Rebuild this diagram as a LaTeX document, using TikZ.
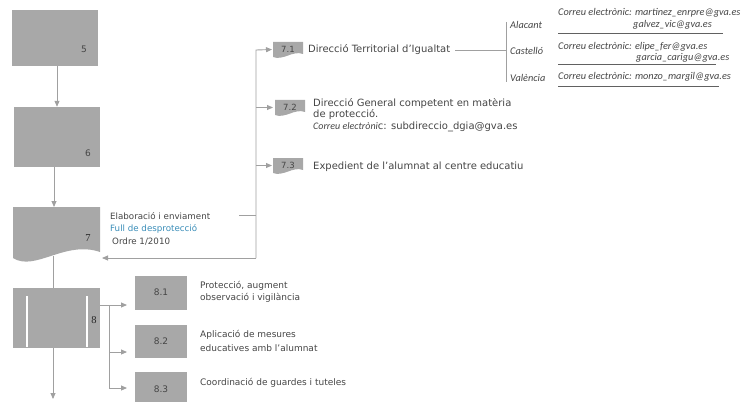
\documentclass[tikz,border=0pt]{standalone}
\usepackage{fontspec}
\setmainfont{DejaVu Sans}
\newfontfamily\emfont{Carlito}
\newfontfamily\numserif{Liberation Serif}
\usetikzlibrary{arrows.meta,calc}
\definecolor{boxgray}{HTML}{A8A8A8}
\definecolor{linegray}{HTML}{A0A0A0}
\definecolor{txtgray}{HTML}{454545}
\definecolor{linkblue}{HTML}{3A8DB8}
\tikzset{
  graybox/.style={fill=boxgray, draw=none, inner sep=0pt},
  conn/.style={draw=linegray, line width=0.9pt},
  arr/.style={conn, -{Triangle[length=6pt,width=5pt]}},
  numlbl/.style={font=\fontsize{9}{10}\selectfont, text=txtgray, inner sep=0pt},
  serlbl/.style={font=\numserif\fontsize{10.5}{11}\selectfont, text=black!85, inner sep=0pt},
  doclbl/.style={font=\fontsize{8.5}{9}\selectfont, text=txtgray, inner sep=0pt},
  txt/.style={font=\fontsize{8.7}{11}\selectfont, text=txtgray, inner sep=0pt, anchor=west},
  bigtxt/.style={font=\fontsize{10}{11}\selectfont, text=txtgray, inner sep=0pt, anchor=west},
  smalltxt/.style={font=\fontsize{9}{10}\selectfont, text=txtgray, inner sep=0pt, anchor=west},
  emtxt/.style={font=\emfont\itshape\fontsize{10.3}{11}\selectfont, text=txtgray, inner sep=0pt, anchor=west},
  uline/.style={draw=txtgray!85, line width=0.7pt},
}
\newcommand{\mydoc}[4]{%
  \fill[boxgray] (#1,#2) -- ++(30,0) -- ++(0,12) .. controls +(-10,-4) and +(10,4) .. ($(#1,#2)+(0,15)$) -- cycle;
  \node[doclbl] (#4) at ($(#1,#2)+(15,7.5)$) {#3};
}
\begin{document}
\begin{tikzpicture}[x=1pt,y=-1pt]
\useasboundingbox (0,0) rectangle (743,401);
% main column
\node[graybox, minimum width=86pt, minimum height=56pt] (b5) at (54.5,38) {};
\node[numlbl] (n5) at (84,49) {5};
\node[graybox, minimum width=86pt, minimum height=60pt] (b6) at (57,137) {};
\node[numlbl] (n6) at (88,153) {6};
\fill[boxgray] (13,207) -- (100,207) -- (100,252) .. controls (65,240) and (35,272) .. (13,258) -- cycle;
\coordinate (s7top) at (54,207);
\coordinate (s7bot) at (53,256);
\coordinate (s7in) at (102,258);
\node[serlbl] (n7) at (88,238) {7};
\node[graybox, minimum width=87pt, minimum height=60pt] (b8) at (56.5,318) {};
\draw[white, line width=1.6pt] (27,296) -- (27,347);
\draw[white, line width=1.6pt] (87,296) -- (87,347);
\node[serlbl] (n8) at (94,320) {8};
\coordinate (end8) at (53,399);

\draw[arr] (b6.north |- b5.south) -- (b6.north);
\draw[arr] (b6.south -| s7top) -- (s7top);
\draw[conn] (s7bot) -- (s7bot |- b8.north);
\draw[arr] (b8.south -| end8) -- (end8);

% text of 7
\node[txt] (t7a) at (110,216) {Elaboració i enviament};
\node[txt, text=linkblue] (t7b) at (110,229) {Full de desprotecció};
\node[txt] (t7c) at (112,242) {Ordre 1/2010};
\coordinate (j7) at (239,215);
\coordinate (jt) at (256,215);
\coordinate (ktop) at (256,50);
\coordinate (kbot) at (256,258);
\draw[conn] (j7) -- (jt);

% 7.x documents
\mydoc{273}{42}{7.1}{d71}
\mydoc{275}{100}{7.2}{d72}
\mydoc{273}{158}{7.3}{d73}
\draw[arr] (kbot) -- (ktop) -- ([xshift=-1pt]d71.west -| 273,0);
\draw[arr] (kbot) -- (s7in);
\draw[arr] (ktop |- d72.west) -- (273,0 |- d72.west);
\draw[arr] (ktop |- d73.west) -- (272,0 |- d73.west);

\node[bigtxt] (t71) at (308,50) {Direcció Territorial d'Igualtat};
\node[bigtxt] (t72a) at (313,104) {Direcció General competent en matèria};
\node[bigtxt] (t72b) at (313,115) {de protecció.};
\node[bigtxt] (t72c) at (313,127) {{\emfont\itshape\fontsize{10}{10}\selectfont Correu electròni}c: subdireccio\_dgia@gva.es};
\node[bigtxt] (t73) at (313,167) {Expedient de l'alumnat al centre educatiu};

% provinces
\coordinate (c0) at (506,50);
\coordinate (cA) at (506,22);
\coordinate (cV) at (506,82);
\draw[conn] ([xshift=5pt]t71.east) -- (c0);
\draw[conn, line width=0.7pt] (cA) -- (cV);
\node[emtxt] (pA) at (510,25) {Alacant};
\node[emtxt] (pC) at (510,51) {Castelló};
\node[emtxt] (pV) at (510,78) {València};
\node[emtxt] (e1) at (558,13) {Correu electrònic: martinez\_enrpre@gva.es};
\node[emtxt] (e1b) at (633,25) {galvez\_vic@gva.es};
\node[emtxt] (e2) at (558,47) {Correu electrònic: elipe\_fer@gva.es};
\node[emtxt] (e2b) at (636,58) {garcia\_carigu@gva.es};
\node[emtxt] (e3) at (558,77) {Correu electrònic: monzo\_margil@gva.es};
\coordinate (u1a) at (558,33); \coordinate (u1b) at (723,33);
\coordinate (u2a) at (558,64); \coordinate (u2b) at (716,64);
\coordinate (u3a) at (558,86); \coordinate (u3b) at (719,86);
\draw[uline] (u1a) -- (u1b);
\draw[uline] (u2a) -- (u2b);
\draw[uline] (u3a) -- (u3b);

% 8.x
\node[graybox, minimum width=52pt, minimum height=34pt] (b81) at (161,293) {};
\node[graybox, minimum width=52pt, minimum height=33pt] (b82) at (161,341) {};
\node[graybox, minimum width=52pt, minimum height=30pt] (b83) at (161,387) {};
\node[numlbl] (n81) at (161,292) {8.1};
\node[numlbl] (n82) at (161,341) {8.2};
\node[numlbl] (n83) at (161,389) {8.3};
\coordinate (br0) at (109,305);
\coordinate (br1) at (109,352);
\coordinate (br2) at (109,388);
\draw[arr] (b8.east |- br0) -- (127,305);
\draw[conn] (br0) -- (br2);
\draw[arr] (br1) -- (127,352);
\draw[arr] (br2) -- (127,388);
\node[smalltxt] (t81a) at (200,286) {Protecció, augment};
\node[smalltxt] (t81b) at (200,298) {observació i vigilància};
\node[smalltxt] (t82a) at (200,335) {Aplicació de mesures};
\node[smalltxt] (t82b) at (200,348) {educatives amb l'alumnat};
\node[smalltxt] (t83) at (200,383) {Coordinació de guardes i tuteles};
\end{tikzpicture}
\end{document}
